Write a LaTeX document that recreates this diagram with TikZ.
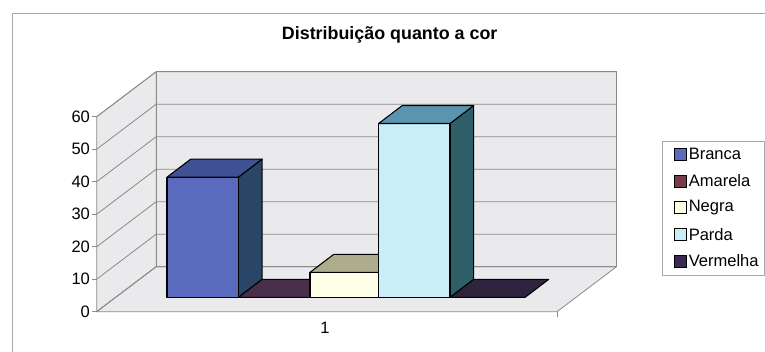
\documentclass[tikz,border=0pt]{standalone}
\usepackage{fontspec}
\setmainfont{Liberation Sans}
\usepackage{xcolor}
\usepackage{tikz}
\usetikzlibrary{calc}
\definecolor{wall}{HTML}{EAEAEC}
\definecolor{edge}{HTML}{8A8A8A}
\definecolor{frame}{HTML}{A8A8A8}
\definecolor{branca}{HTML}{5A6BBE}
\definecolor{brancatop}{HTML}{3F5193}
\definecolor{brancaside}{HTML}{2B4566}
\definecolor{amarela}{HTML}{4A2F4C}
\definecolor{amarelakey}{HTML}{7A3A4C}
\definecolor{negra}{HTML}{FFFFE8}
\definecolor{negratop}{HTML}{ADAD8E}
\definecolor{negraside}{HTML}{6E6E58}
\definecolor{parda}{HTML}{C8EEF8}
\definecolor{pardatop}{HTML}{5B94AF}
\definecolor{pardaside}{HTML}{2E5F68}
\definecolor{vermelha}{HTML}{2E2440}
\definecolor{vermelhakey}{HTML}{3A2A52}
\tikzset{
  wallface/.style={fill=wall, draw=edge, line width=0.6pt, line join=round},
  grid/.style={draw=edge, line width=0.6pt},
  barline/.style={draw=black, line width=0.8pt, line join=round},
  ylab/.style={anchor=east, inner sep=0pt, font=\fontsize{12.4}{14}\selectfont},
  ttl/.style={inner sep=0pt, font=\bfseries\fontsize{13.4}{15}\selectfont},
  legbox/.style={draw=frame, fill=white, line width=0.6pt, inner sep=0pt},
  keysq/.style={draw=black, line width=0.6pt, minimum size=9pt, inner sep=0pt},
  legtext/.style={anchor=west, inner sep=0pt, font=\fontsize{12.4}{14}\selectfont},
}

\begin{document}
\begin{tikzpicture}[x=0.75pt,y=-0.75pt]
  \useasboundingbox (0,0) rectangle (765,352);
  \def\dx{59.5}  % floor depth
  \def\dy{-45}
  \def\u{3.25}   % pixels per unit
  \def\bdx{23.7} % bar depth
  \def\bdy{-18}
  \def\base{297.4}
  % outer frame
  \draw[frame, line width=0.6pt] (12,352) -- (12,13) -- (765,13);
  \node[ttl] (title) at (389.7,35) {Distribuição quanto a cor};
  % walls and floor
  \coordinate (F0) at (96.7,311.7);
  \coordinate (F1) at (557,311.7);
  \coordinate (B0) at ($(F0)+(\dx,\dy)$);
  \coordinate (B1) at ($(F1)+(\dx,\dy)$);
  \coordinate (T0) at ($(F0)+(0,-60*\u)$);
  \coordinate (U0) at ($(B0)+(0,-60*\u)$);
  \coordinate (U1) at ($(B1)+(0,-60*\u)$);
  \draw[wallface] (F0) -- (T0) -- (U0) -- (B0) -- cycle;
  \draw[wallface] (B0) -- (U0) -- (U1) -- (B1) -- cycle;
  \draw[wallface] (F0) -- (F1) -- (B1) -- (B0) -- cycle;
  \foreach \k in {0,10,...,60}{
    \draw[grid] ($(F0)+(0,-\k*\u)$) -- ($(B0)+(0,-\k*\u)$) -- ($(B1)+(0,-\k*\u)$);
    \draw[grid] ($(F0)+(-4.5,-\k*\u)$) -- ($(F0)+(0,-\k*\u)$);
    \node[ylab] (y\k) at ($(F0)+(-6.5,-\k*\u)$) {\k};
  }
  \draw[grid] (F1) -- ++(0,5);
  \node[ylab, anchor=center] (cat1) at (325,328.3) {1};
  % bars, left to right
  \foreach \xa/\xb/\h/\cf/\ct/\cs in {
      167/238.4/37/branca/brancatop/brancaside,
      238.4/310/0/amarela/amarela/amarela,
      310/378.6/7.7/negra/negratop/negraside,
      378.6/450/53.5/parda/pardatop/pardaside,
      450/525/0/vermelha/vermelha/vermelha}{
    \pgfmathsetmacro{\yt}{\base-\h*\u}
    \ifdim\h pt>0pt
      \draw[barline, fill=\cs] (\xb,\yt) -- (\xb,\base) -- ++(\bdx,\bdy) -- (\xb+\bdx,\yt+\bdy) -- cycle;
      \draw[barline, fill=\cf] (\xa,\yt) rectangle (\xb,\base);
    \fi
    \draw[barline, fill=\ct] (\xa,\yt) -- (\xb,\yt) -- ++(\bdx,\bdy) -- (\xa+\bdx,\yt+\bdy) -- cycle;
  }
  % legend
  \node[legbox, anchor=north west, minimum width=76.7pt, minimum height=100.5pt] (legend) at (661.7,141) {};
  \foreach \i/\name/\c/\y in {1/Branca/branca/154, 2/Amarela/amarelakey/181,
      3/Negra/negra/207.5, 4/Parda/parda/234.3, 5/Vermelha/vermelhakey/261}{
    \node[keysq, fill=\c] (sq\i) at (680.3,\y) {};
    \node[legtext] (lt\i) at (688.5,\y) {\name};
  }
\end{tikzpicture}
\end{document}
